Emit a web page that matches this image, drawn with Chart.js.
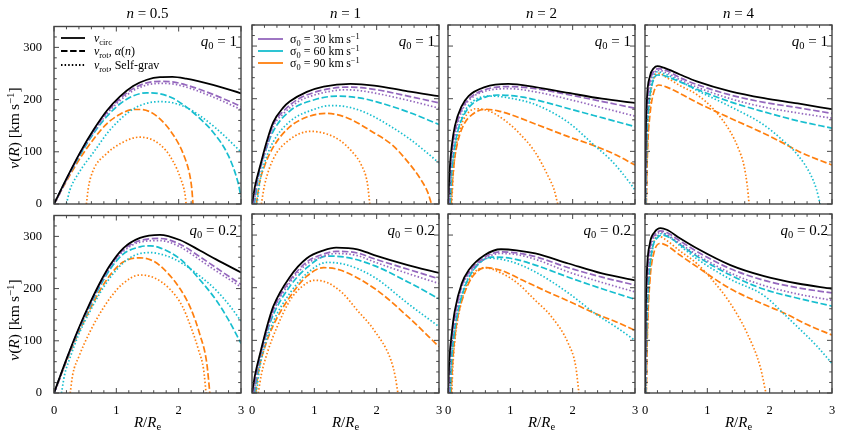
<!DOCTYPE html>
<html>
<head>
<meta charset="utf-8">
<script src="https://cdn.jsdelivr.net/npm/chart.js@4.4.1/dist/chart.umd.min.js"></script>
<style>
  html, body { margin: 0; padding: 0; background: #fff; }
  #fig { position: relative; width: 843px; height: 438px; overflow: hidden;
         font-family: "Liberation Serif", "DejaVu Serif", serif; color: #000; }
  #fig canvas { position: absolute; }
  .lbl { position: absolute; white-space: nowrap; line-height: 16px; }
  .lbl sub { font-size: 70%; vertical-align: -0.3em; line-height: 0; }
  .lbl sup { font-size: 70%; vertical-align: 0.5em; line-height: 0; }
  .leg { position: absolute; font-size: 12px; white-space: nowrap; }
  .leg .row { position: absolute; left: 0; height: 14px; line-height: 14px; }
  .leg svg { position: absolute; left: 0; top: 0; }
  .leg span { position: absolute; top: 0; }
  .leg sub { font-size: 70%; vertical-align: -0.3em; line-height: 0; }
  .leg sup { font-size: 70%; vertical-align: 0.5em; line-height: 0; }
</style>
</head>
<body>
<div id="fig"></div>
<script>
// tick labels and panel labels
var xTicks = [0, 1, 2, 3];
var yTicks = [0, 100, 200, 300];
var nLabels = ['0.5', '1', '2', '4'];
var q0Labels = ['1', '0.2'];
var sigmas = [30, 60, 90];

// ---- q0 = 1 (top row), pairs of [R/Re, v] ----
var vc_n05_q1 = [[0,0],[0.21,51],[0.42,99],[0.64,143],[0.85,179],[1.06,206],[1.27,226],[1.49,238],[1.7,243],[1.9,243.5],[2.12,240],[2.55,228],[3.0,212]];
var d30_n05_q1 = [[0,0],[0.21,50],[0.42,98],[0.64,141],[0.85,176],[1.06,202],[1.27,221],[1.49,232],[1.7,235],[1.9,234],[2.12,228],[2.55,210],[3.0,187]];
var s30_n05_q1 = [[0.01,0],[0.21,48],[0.42,96],[0.64,138],[0.85,173],[1.06,198],[1.27,217],[1.49,228],[1.7,231],[1.9,230],[2.12,224],[2.55,205],[3.0,181]];
var d60_n05_q1 = [[0,0],[0.21,49],[0.42,94],[0.64,136],[0.85,168],[1.06,192],[1.27,207],[1.49,213],[1.7,211],[1.9,203],[2.12,186],[2.33,165],[2.55,138],[2.8,92],[2.95,42],[3.0,14]];
var s60_n05_q1 = [[0.2,0],[0.25,25],[0.4,60],[0.64,100],[0.85,135],[1.06,162],[1.27,182],[1.49,193],[1.7,196],[1.9,194],[2.12,185],[2.33,170],[2.6,145],[3.0,100]];
var d90_n05_q1 = [[0,0],[0.21,46],[0.42,88],[0.64,125],[0.85,154],[1.06,172],[1.27,181],[1.4,181],[1.55,176],[1.7,163],[1.85,143],[2.0,115],[2.1,88],[2.17,60],[2.21,30],[2.23,0]];
var s90_n05_q1 = [[0.52,0],[0.55,30],[0.62,62],[0.84,96],[1.1,118],[1.37,128],[1.69,115],[1.9,84],[2.04,46],[2.1,20],[2.12,0]];

var vc_n1_q1 = [[0,0],[0.05,35],[0.13,72],[0.24,120],[0.34,155],[0.5,183],[0.61,195],[0.88,213],[1.15,223],[1.58,228],[1.96,225],[2.5,214],[3.0,205]];
var d30_n1_q1 = [[0.02,0],[0.08,45],[0.15,78],[0.25,118],[0.34,151],[0.5,176],[0.75,200],[1.0,212],[1.25,219],[1.5,222],[1.75,221],[2.0,217],[2.5,205],[3.0,192]];
var s30_n1_q1 = [[0.03,0],[0.08,40],[0.15,73],[0.25,113],[0.34,147],[0.5,171],[0.75,195],[1.0,207],[1.25,214],[1.5,217],[1.75,215],[2.0,210],[2.5,197],[3.0,182]];
var d60_n1_q1 = [[0.04,0],[0.1,50],[0.2,95],[0.34,138],[0.61,177],[1.0,198],[1.37,205],[1.75,201],[2.0,194],[2.5,175],[3.0,151]];
var s60_n1_q1 = [[0.08,0],[0.13,45],[0.2,78],[0.34,118],[0.61,157],[1.0,180],[1.25,187],[1.5,185],[1.75,177],[2.0,163],[2.5,126],[2.75,103],[3.0,78]];
var d90_n1_q1 = [[0.07,0],[0.12,40],[0.2,72],[0.34,108],[0.6,146],[0.9,166],[1.2,172],[1.5,165],[1.96,135],[2.25,112],[2.5,80],[2.7,48],[2.82,22],[2.88,0]];
var s90_n1_q1 = [[0.15,0],[0.2,35],[0.34,85],[0.6,122],[0.95,138],[1.2,133],[1.42,120],[1.6,100],[1.75,75],[1.85,40],[1.89,0]];

var vc_n2_q1 = [[0,0],[0.03,70],[0.06,110],[0.11,148],[0.22,186],[0.33,205],[0.59,222],[0.97,228],[1.4,222],[1.93,211],[2.47,200],[3.0,192]];
var d30_n2_q1 = [[0.01,0],[0.035,65],[0.065,103],[0.12,142],[0.22,180],[0.33,199],[0.59,217],[1.0,223],[1.4,219],[2.0,206],[2.5,194],[3.0,182]];
var s30_n2_q1 = [[0.02,0],[0.045,62],[0.075,100],[0.13,140],[0.22,176],[0.33,196],[0.59,214],[1.0,219],[1.4,213],[2.0,197],[2.5,182],[3.0,167]];
var d60_n2_q1 = [[0.03,0],[0.05,50],[0.09,95],[0.15,135],[0.25,168],[0.4,191],[0.6,203],[0.8,207],[1.2,203],[1.6,192],[2.0,179],[2.5,163],[3.0,147]];
var s60_n2_q1 = [[0.04,0],[0.06,55],[0.1,100],[0.16,140],[0.25,172],[0.4,195],[0.7,205],[1.0,201],[1.4,189],[1.93,155],[2.36,110],[2.6,85],[2.8,58],[3.0,27]];
var d90_n2_q1 = [[0.05,0],[0.07,40],[0.1,80],[0.15,115],[0.25,150],[0.4,171],[0.6,180],[0.8,177],[1.0,170],[1.4,152],[1.93,128],[2.36,110],[2.7,93],[3.0,74]];
var s90_n2_q1 = [[0.06,0],[0.08,50],[0.12,100],[0.2,145],[0.3,170],[0.45,181],[0.65,177],[0.9,160],[1.13,136],[1.4,98],[1.61,52],[1.7,28],[1.76,0]];

var vc_n4_q1 = [[0,0],[0.01,120],[0.03,198],[0.08,243],[0.14,258],[0.2,262],[0.3,259],[0.56,246],[0.83,233],[1.37,214],[1.91,201],[2.45,191],[3.0,180]];
var d30_n4_q1 = [[0.005,0],[0.015,120],[0.04,195],[0.09,238],[0.15,253],[0.22,257],[0.35,253],[0.56,240],[0.83,227],[1.37,207],[1.91,193],[2.45,183],[3.0,172]];
var s30_n4_q1 = [[0.01,0],[0.02,120],[0.05,195],[0.1,238],[0.16,251],[0.22,254],[0.35,249],[0.56,236],[0.83,222],[1.37,200],[1.91,184],[2.45,173],[3.0,163]];
var d60_n4_q1 = [[0.01,0],[0.025,110],[0.06,185],[0.12,230],[0.2,245],[0.3,244],[0.56,232],[0.83,218],[1.37,194],[1.91,175],[2.45,158],[3.0,144]];
var s60_n4_q1 = [[0.015,0],[0.03,115],[0.07,195],[0.13,240],[0.2,251],[0.3,248],[0.56,233],[0.83,216],[1.37,185],[1.91,150],[2.18,124],[2.45,93],[2.66,55],[2.75,28],[2.81,0]];
var d90_n4_q1 = [[0.02,0],[0.04,100],[0.08,170],[0.14,212],[0.22,226],[0.35,222],[0.56,210],[0.83,193],[1.37,163],[1.91,134],[2.18,118],[2.5,98],[3.0,74]];
var s90_n4_q1 = [[0.02,0],[0.04,110],[0.08,195],[0.14,238],[0.22,248],[0.35,240],[0.56,225],[0.83,208],[1.1,180],[1.37,137],[1.5,105],[1.59,72],[1.64,35],[1.67,0]];

// ---- q0 = 0.2 (bottom row) ----
var vc_n05_q02 = [[0,0],[0.2,65],[0.4,125],[0.58,173],[0.75,214],[0.9,245],[1.11,277],[1.38,297],[1.7,303],[2.02,293],[2.34,273],[2.6,256],[3.0,231]];
var d30_n05_q02 = [[0,0],[0.2,64],[0.4,124],[0.58,171],[0.75,212],[0.9,243],[1.11,274],[1.38,292],[1.7,296],[2.02,285],[2.34,261],[2.6,240],[3.0,208]];
var s30_n05_q02 = [[0.01,0],[0.2,62],[0.4,122],[0.58,169],[0.75,210],[0.9,241],[1.11,271],[1.38,289],[1.7,292],[2.02,280],[2.34,255],[2.6,234],[3.0,203]];
var d60_n05_q02 = [[0,0],[0.2,63],[0.4,121],[0.58,167],[0.75,207],[0.9,237],[1.11,266],[1.38,280],[1.55,282],[1.7,278],[2.02,257],[2.34,217],[2.6,178],[2.8,140],[3.0,95]];
var s60_n05_q02 = [[0.12,0],[0.17,35],[0.25,65],[0.4,113],[0.58,157],[0.75,194],[0.9,221],[1.11,249],[1.3,264],[1.53,269],[1.8,263],[2.06,248],[2.34,224],[2.6,197],[2.8,170],[3.0,138]];
var d90_n05_q02 = [[0,0],[0.2,61],[0.4,117],[0.58,161],[0.75,199],[0.9,226],[1.11,251],[1.38,259],[1.55,255],[1.7,244],[2.02,200],[2.2,160],[2.34,112],[2.45,58],[2.5,0]];
var s90_n05_q02 = [[0.26,0],[0.3,35],[0.4,70],[0.58,118],[0.75,155],[0.9,182],[1.11,210],[1.38,226],[1.6,221],[1.85,200],[2.06,166],[2.2,125],[2.32,82],[2.4,45],[2.44,0]];

var vc_n1_q02 = [[0,0],[0.05,35],[0.13,75],[0.24,126],[0.34,164],[0.61,221],[0.88,256],[1.15,271],[1.35,276],[1.69,273],[1.96,262],[2.5,243],[3.0,228]];
var d30_n1_q02 = [[0.02,0],[0.08,45],[0.15,80],[0.25,125],[0.34,158],[0.61,214],[0.88,249],[1.15,264],[1.35,269],[1.69,266],[1.96,255],[2.5,235],[3.0,217]];
var s30_n1_q02 = [[0.03,0],[0.08,40],[0.15,76],[0.25,120],[0.34,154],[0.61,210],[0.88,245],[1.15,260],[1.35,265],[1.69,261],[1.96,249],[2.5,227],[3.0,208]];
var d60_n1_q02 = [[0.04,0],[0.1,50],[0.2,100],[0.34,148],[0.61,203],[0.88,238],[1.2,260],[1.5,258],[1.96,242],[2.5,211],[3.0,179]];
var s60_n1_q02 = [[0.07,0],[0.12,45],[0.2,88],[0.34,135],[0.61,190],[0.88,227],[1.2,248],[1.5,244],[1.96,220],[2.5,170],[3.0,126]];
var d90_n1_q02 = [[0.06,0],[0.1,38],[0.2,85],[0.34,128],[0.61,183],[0.88,222],[1.15,238],[1.4,234],[1.96,199],[2.5,145],[3.0,88]];
var s90_n1_q02 = [[0.1,0],[0.15,35],[0.25,78],[0.4,125],[0.61,176],[0.8,202],[1.0,214],[1.2,210],[1.45,190],[1.69,157],[1.96,119],[2.23,62],[2.3,30],[2.34,0]];

var vc_n2_q02 = [[0,0],[0.02,60],[0.06,113],[0.11,157],[0.22,208],[0.33,233],[0.59,262],[0.85,273],[1.1,271],[1.4,265],[1.93,246],[2.47,227],[3.0,214]];
var d30_n2_q02 = [[0.01,0],[0.03,65],[0.065,110],[0.12,152],[0.22,203],[0.33,228],[0.59,258],[0.85,268],[1.1,266],[1.4,259],[1.93,238],[2.47,220],[3.0,205]];
var s30_n2_q02 = [[0.02,0],[0.04,65],[0.075,108],[0.13,150],[0.22,200],[0.33,225],[0.59,255],[0.85,265],[1.1,263],[1.4,254],[1.93,230],[2.47,210],[3.0,192]];
var d60_n2_q02 = [[0.03,0],[0.05,55],[0.09,105],[0.15,150],[0.25,195],[0.4,232],[0.7,258],[1.0,256],[1.4,243],[1.93,220],[2.47,198],[3.0,178]];
var s60_n2_q02 = [[0.04,0],[0.06,60],[0.1,110],[0.16,155],[0.25,197],[0.4,233],[0.65,256],[1.0,250],[1.4,230],[1.93,190],[2.36,151],[2.7,125],[3.0,100]];
var d90_n2_q02 = [[0.05,0],[0.07,50],[0.1,95],[0.15,140],[0.25,185],[0.4,222],[0.6,238],[0.85,233],[1.2,214],[1.6,192],[2.0,171],[2.36,151],[2.7,135],[3.0,119]];
var s90_n2_q02 = [[0.06,0],[0.08,55],[0.12,110],[0.2,165],[0.3,205],[0.45,232],[0.6,238],[0.85,228],[1.1,210],[1.4,176],[1.66,145],[1.93,94],[2.05,50],[2.1,0]];

var vc_n4_q02 = [[0,0],[0.01,140],[0.03,230],[0.08,285],[0.15,305],[0.25,313],[0.35,310],[0.56,294],[0.83,275],[1.37,243],[1.91,222],[2.45,208],[3.0,198]];
var d30_n4_q02 = [[0.005,0],[0.015,135],[0.04,228],[0.09,282],[0.16,301],[0.25,308],[0.35,305],[0.56,289],[0.83,269],[1.37,236],[1.91,214],[2.45,200],[3.0,190]];
var s30_n4_q02 = [[0.01,0],[0.02,130],[0.05,225],[0.1,280],[0.17,299],[0.25,305],[0.35,301],[0.56,284],[0.83,263],[1.37,228],[1.91,204],[2.45,188],[3.0,176]];
var d60_n4_q02 = [[0.01,0],[0.025,120],[0.06,215],[0.12,275],[0.2,295],[0.28,300],[0.4,295],[0.56,282],[0.83,260],[1.37,224],[1.91,197],[2.45,180],[3.0,165]];
var s60_n4_q02 = [[0.015,0],[0.03,125],[0.07,225],[0.13,280],[0.2,298],[0.28,303],[0.4,296],[0.56,280],[0.83,255],[1.37,216],[1.91,185],[2.23,150],[2.45,125],[2.75,90],[3.0,56]];
var d90_n4_q02 = [[0.02,0],[0.04,120],[0.08,215],[0.14,265],[0.25,284],[0.35,280],[0.56,262],[0.83,240],[1.37,198],[1.91,168],[2.23,152],[2.6,130],[3.0,110]];
var s90_n4_q02 = [[0.02,0],[0.04,125],[0.08,230],[0.14,285],[0.22,298],[0.32,292],[0.56,270],[0.83,246],[1.1,212],[1.37,170],[1.64,113],[1.85,49],[1.94,0]];

// table of panels built from the arrays above
var panels = [
  [[vc_n05_q1, d30_n05_q1, s30_n05_q1, d60_n05_q1, s60_n05_q1, d90_n05_q1, s90_n05_q1],
   [vc_n1_q1, d30_n1_q1, s30_n1_q1, d60_n1_q1, s60_n1_q1, d90_n1_q1, s90_n1_q1],
   [vc_n2_q1, d30_n2_q1, s30_n2_q1, d60_n2_q1, s60_n2_q1, d90_n2_q1, s90_n2_q1],
   [vc_n4_q1, d30_n4_q1, s30_n4_q1, d60_n4_q1, s60_n4_q1, d90_n4_q1, s90_n4_q1]],
  [[vc_n05_q02, d30_n05_q02, s30_n05_q02, d60_n05_q02, s60_n05_q02, d90_n05_q02, s90_n05_q02],
   [vc_n1_q02, d30_n1_q02, s30_n1_q02, d60_n1_q02, s60_n1_q02, d90_n1_q02, s90_n1_q02],
   [vc_n2_q02, d30_n2_q02, s30_n2_q02, d60_n2_q02, s60_n2_q02, d90_n2_q02, s90_n2_q02],
   [vc_n4_q02, d30_n4_q02, s30_n4_q02, d60_n4_q02, s60_n4_q02, d90_n4_q02, s90_n4_q02]]
];

// layout
var colLeft = [54, 252, 448, 645];
var rowTop = [25, 214];
var plotW = 187, plotH = 179;
var padL = 34, padR = 8, padT = 10, padB = 24;

var purple = '#9467bd', cyan = '#17becf', orange = '#ff7f0e';
var dashPat = [6.5, 2.6], dotPat = [1.5, 2.1];
var lineStyles = [
  { color: '#000', dash: [], width: 1.8 },
  { color: purple, dash: dashPat, width: 1.7 },
  { color: purple, dash: dotPat, width: 1.7 },
  { color: cyan, dash: dashPat, width: 1.7 },
  { color: cyan, dash: dotPat, width: 1.7 },
  { color: orange, dash: dashPat, width: 1.7 },
  { color: orange, dash: dotPat, width: 1.7 }
];

// frame + inward ticks on all four sides
var framePlugin = {
  id: 'frame',
  afterDatasetsDraw: function(chart) {
    var ctx = chart.ctx, a = chart.chartArea;
    var xs = chart.scales.x, ys = chart.scales.y;
    ctx.save();
    ctx.strokeStyle = '#333';
    ctx.lineWidth = 0.9;
    ctx.beginPath();
    for (var i = 0; i <= 15; i++) {
      var px = xs.getPixelForValue(i * 0.2);
      var len = (i % 5 === 0) ? 5 : 2.8;
      ctx.moveTo(px, a.bottom); ctx.lineTo(px, a.bottom - len);
      ctx.moveTo(px, a.top); ctx.lineTo(px, a.top + len);
    }
    for (var j = 0; j <= 17; j++) {
      var py = ys.getPixelForValue(j * 20);
      var len2 = (j % 5 === 0) ? 5 : 2.8;
      ctx.moveTo(a.left, py); ctx.lineTo(a.left + len2, py);
      ctx.moveTo(a.right, py); ctx.lineTo(a.right - len2, py);
    }
    ctx.stroke();
    ctx.strokeStyle = '#444';
    ctx.lineWidth = 1.4;
    ctx.strokeRect(a.left, a.top, a.right - a.left, a.bottom - a.top);
    ctx.restore();
  }
};

var fig = document.getElementById('fig');
var tickFont = { family: '"Liberation Serif", "DejaVu Serif", serif', size: 12.5 };

function makePanel(row, col) {
  var cv = document.createElement('canvas');
  var w = plotW + padL + padR, h = plotH + padT + padB;
  cv.width = w; cv.height = h;
  cv.style.width = w + 'px'; cv.style.height = h + 'px';
  cv.style.left = (colLeft[col] - padL) + 'px';
  cv.style.top = (rowTop[row] - padT) + 'px';
  fig.appendChild(cv);

  var datasets = panels[row][col].map(function(pts, k) {
    var st = lineStyles[k];
    return {
      data: pts,
      borderColor: st.color,
      borderDash: st.dash,
      borderWidth: st.width,
      borderCapStyle: 'butt',
      pointRadius: 0,
      fill: false,
      cubicInterpolationMode: 'monotone'
    };
  });

  new Chart(cv, {
    type: 'line',
    data: { datasets: datasets },
    plugins: [framePlugin],
    options: {
      responsive: false,
      animation: false,
      layout: { padding: { top: padT, right: padR, left: 0, bottom: 0 } },
      plugins: { legend: { display: false }, tooltip: { enabled: false } },
      scales: {
        x: {
          type: 'linear', min: 0, max: 3,
          grid: { display: false }, border: { display: false },
          afterBuildTicks: function(s) { s.ticks = xTicks.map(function(v) { return { value: v }; }); },
          afterFit: function(s) { s.height = padB; },
          ticks: { display: row === 1, color: '#000', font: tickFont, padding: 2, maxRotation: 0 }
        },
        y: {
          type: 'linear', min: 0, max: 340,
          grid: { display: false }, border: { display: false },
          afterBuildTicks: function(s) { s.ticks = yTicks.map(function(v) { return { value: v }; }); },
          afterFit: function(s) { s.width = padL; },
          ticks: { display: col === 0, color: '#000', font: tickFont, padding: 4 }
        }
      }
    }
  });
}

for (var r = 0; r < 2; r++) {
  for (var c = 0; c < 4; c++) makePanel(r, c);
}

// text labels
function addLabel(html, css) {
  var d = document.createElement('div');
  d.className = 'lbl';
  d.innerHTML = html;
  for (var k in css) d.style[k] = css[k];
  fig.appendChild(d);
  return d;
}

for (var c2 = 0; c2 < 4; c2++) {
  addLabel('<i>n</i> = ' + nLabels[c2], {
    left: colLeft[c2] + 'px', width: plotW + 'px', textAlign: 'center', top: '5px', fontSize: '15px'
  });
  addLabel('<i>R</i>/<i>R</i><sub>e</sub>', {
    left: colLeft[c2] + 'px', width: plotW + 'px', textAlign: 'center', top: '414px', fontSize: '15px'
  });
  for (var r2 = 0; r2 < 2; r2++) {
    addLabel('<i>q</i><sub>0</sub> = ' + q0Labels[r2], {
      right: (843 - (colLeft[c2] + plotW - 4)) + 'px', top: (rowTop[r2] + 8) + 'px', fontSize: '15px'
    });
  }
}
var yLabelCenters = [128, 320];
for (var r3 = 0; r3 < 2; r3++) {
  addLabel('<i>v</i>(<i>R</i>) [km&#8201;s<sup>&minus;1</sup>]', {
    left: '14px', top: yLabelCenters[r3] + 'px', fontSize: '15.5px',
    transform: 'translate(-50%, -50%) rotate(-90deg)'
  });
}

// legends
function addLegend(left, top, rows, spacing, lineLen, textX) {
  var box = document.createElement('div');
  box.className = 'leg';
  box.style.left = left + 'px';
  box.style.top = top + 'px';
  rows.forEach(function(it, i) {
    var row = document.createElement('div');
    row.className = 'row';
    row.style.top = (i * spacing) + 'px';
    var dash = it.dash ? ' stroke-dasharray="' + it.dash + '"' : '';
    row.innerHTML = '<svg width="' + lineLen + '" height="14"><line x1="0" y1="7" x2="' + lineLen +
      '" y2="7" stroke="' + it.color + '" stroke-width="' + it.width + '"' + dash + '/></svg>' +
      '<span style="left:' + textX + 'px">' + it.text + '</span>';
    box.appendChild(row);
  });
  fig.appendChild(box);
}

addLegend(61, 31, [
  { color: '#000', width: 1.8, text: '<i>v</i><sub>circ</sub>' },
  { color: '#000', width: 1.8, dash: '6.5,2.6', text: '<i>v</i><sub>rot</sub>, <i>&alpha;</i>(<i>n</i>)' },
  { color: '#000', width: 1.8, dash: '1.5,2.1', text: '<i>v</i><sub>rot</sub>, Self-grav' }
], 13.3, 24, 33);

addLegend(258, 32, sigmas.map(function(s, i) {
  return { color: [purple, cyan, orange][i], width: 1.8,
           text: '&sigma;<sub>0</sub> = ' + s + ' km&#8201;s<sup>&minus;1</sup>' };
}), 12, 25, 32);
</script>
</body>
</html>
